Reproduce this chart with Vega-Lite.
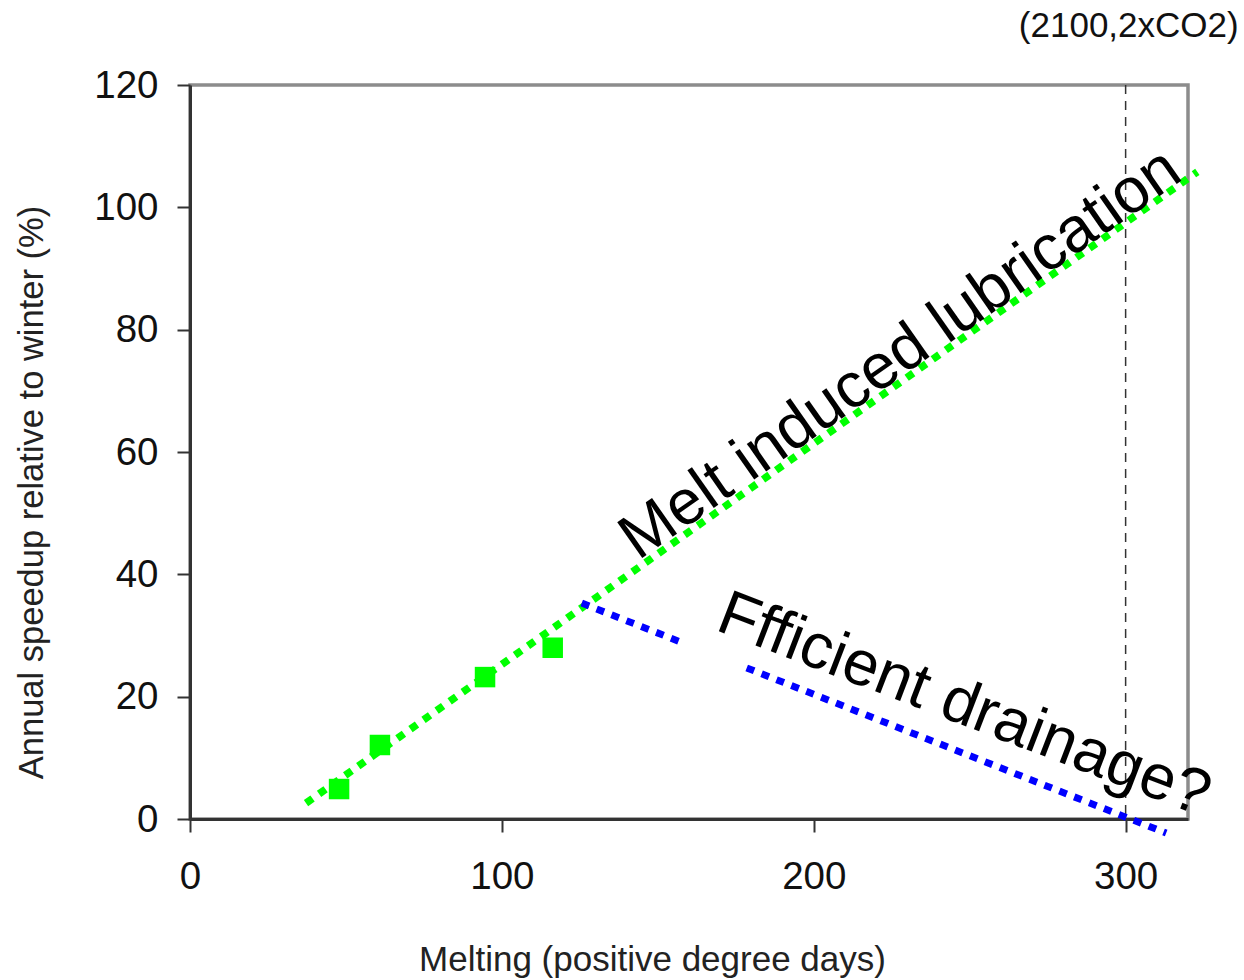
{
  "$schema": "https://vega.github.io/schema/vega-lite/v6.json",
  "width": 998,
  "height": 734,
  "autosize": "none",
  "padding": {"left": 190, "top": 85, "right": 56, "bottom": 161},
  "background": "white",
  "config": {
    "font": "Liberation Sans",
    "view": {"stroke": "#8c8c8c", "strokeWidth": 3.5}
  },
  "datasets": {
    "points": [
      {"melt": 47.8, "speedup": 4.9},
      {"melt": 60.9, "speedup": 12.1},
      {"melt": 94.6, "speedup": 23.2},
      {"melt": 116.3, "speedup": 28.0}
    ],
    "green": [
      {"seg": "g", "melt": 37.2, "speedup": 2.6},
      {"seg": "g", "melt": 323, "speedup": 105.8}
    ],
    "blue": [
      {"seg": "b1", "melt": 125.6, "speedup": 35.3},
      {"seg": "b1", "melt": 158, "speedup": 28.8},
      {"seg": "b2", "melt": 178.5, "speedup": 24.7},
      {"seg": "b2", "melt": 313, "speedup": -2.3}
    ],
    "marker": [{"melt": 300}],
    "note": [{"melt": 301, "speedup": 127.8, "label": "(2100,2xCO2)"}],
    "melt_label": [{"melt": 227.8, "speedup": 76.0, "label": "Melt induced lubrication"}],
    "drain_label": [{"melt": 248.2, "speedup": 18.6, "label": "Ffficient drainage?"}]
  },
  "encoding": {
    "x": {
      "field": "melt", "type": "quantitative",
      "scale": {"domain": [0, 320], "nice": false, "zero": false},
      "axis": {
        "title": "Melting (positive degree days)",
        "values": [0, 100, 200, 300],
        "grid": false,
        "domainColor": "#333333", "domainWidth": 3,
        "tickColor": "#333333", "tickWidth": 2, "tickSize": 13,
        "labelFontSize": 38.5, "labelColor": "#111111", "labelPadding": 26,
        "labelFlush": false,
        "titleFontSize": 35, "titleFontWeight": "normal", "titleColor": "#222222",
        "titleX": 462, "titleY": 151, "titleAlign": "center", "titleBaseline": "alphabetic"
      }
    },
    "y": {
      "field": "speedup", "type": "quantitative",
      "scale": {"domain": [0, 120], "nice": false, "zero": false},
      "axis": {
        "title": "Annual speedup relative to winter (%)",
        "values": [0, 20, 40, 60, 80, 100, 120],
        "grid": false,
        "domainColor": "#333333", "domainWidth": 3,
        "tickColor": "#333333", "tickWidth": 2, "tickSize": 13,
        "labelFontSize": 38.5, "labelColor": "#111111", "labelPadding": 19,
        "labelFlush": false,
        "titleFontSize": 34.5, "titleFontWeight": "normal", "titleColor": "#222222",
        "titleAngle": -90,
        "titleX": -148, "titleY": 407, "titleAlign": "center", "titleBaseline": "alphabetic"
      }
    }
  },
  "layer": [
    {
      "data": {"name": "marker"},
      "mark": {"type": "rule", "color": "#333333", "strokeWidth": 1.5, "strokeDash": [9, 7]},
      "encoding": {"y": {"value": 0}, "y2": {"value": 734}}
    },
    {
      "data": {"name": "green"},
      "mark": {"type": "line", "color": "#00ff00", "strokeWidth": 7.5, "strokeDash": [8, 8], "strokeCap": "butt"},
      "encoding": {"detail": {"field": "seg"}}
    },
    {
      "data": {"name": "blue"},
      "mark": {"type": "line", "color": "#0000ff", "strokeWidth": 7, "strokeDash": [8, 8], "strokeCap": "butt"},
      "encoding": {"detail": {"field": "seg"}}
    },
    {
      "data": {"name": "points"},
      "mark": {"type": "square", "color": "#00ff00", "filled": true, "size": 420, "opacity": 1}
    },
    {
      "data": {"name": "note"},
      "mark": {"type": "text", "fontSize": 35, "color": "#111111", "align": "center", "baseline": "alphabetic"},
      "encoding": {"text": {"field": "label"}}
    },
    {
      "data": {"name": "melt_label"},
      "mark": {"type": "text", "fontSize": 63.5, "color": "#000000", "align": "center", "baseline": "middle", "angle": 325},
      "encoding": {"text": {"field": "label"}}
    },
    {
      "data": {"name": "drain_label"},
      "mark": {"type": "text", "fontSize": 63.5, "color": "#000000", "align": "center", "baseline": "middle", "angle": 21},
      "encoding": {"text": {"field": "label"}}
    }
  ]
}
